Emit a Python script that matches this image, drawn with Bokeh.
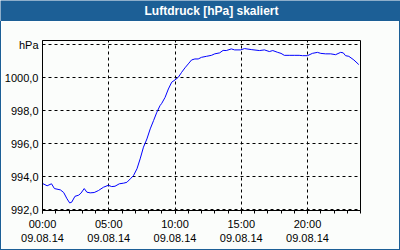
from bokeh.plotting import figure
from bokeh.models import FixedTicker, Spacer
from bokeh.layouts import column, row
from bokeh.core.properties import value
from bokeh.embed import file_html
from bokeh.resources import INLINE

# hours since 00:00 on 09.08.14
hours = [0.0, 0.35, 0.68, 0.9, 1.35, 1.6, 1.85, 2.05, 2.2, 2.45, 2.73, 2.9, 3.15, 3.35, 3.6,
         3.9, 4.22, 4.6, 4.97, 5.22, 5.47, 5.8, 6.13, 6.37, 6.63, 6.87, 7.13, 7.37, 7.62,
         7.88, 8.13, 8.38, 8.63, 8.87, 9.0, 9.25, 9.5, 9.75, 10.0, 10.25, 10.5, 10.75, 11.0,
         11.25, 11.5, 11.75, 12.0, 12.37, 12.75, 13.0, 13.37, 13.63, 13.87, 14.25, 14.5,
         14.95, 15.25, 15.75, 16.37, 16.75, 17.12, 17.38, 17.75, 18.0, 18.25, 18.62, 19.0,
         19.37, 19.62, 20.0, 20.37, 20.75, 21.0, 21.37, 21.75, 22.12, 22.5, 22.7, 22.87,
         23.12, 23.5, 23.87]
pressure = [993.58, 993.44, 993.56, 993.27, 993.19, 993.03, 992.65, 992.4, 992.44, 992.8,
            992.87, 992.99, 993.27, 993.05, 993.01, 993.03, 993.15, 993.35, 993.47, 993.39,
            993.41, 993.56, 993.6, 993.65, 993.86, 994.06, 994.47, 995.07, 995.78, 996.28,
            996.89, 997.39, 997.9, 998.3, 998.44, 998.8, 999.31, 999.72, 999.86, 1000.02,
            1000.32, 1000.59, 1000.83, 1001.07, 1001.13, 1001.13, 1001.23, 1001.29, 1001.35,
            1001.44, 1001.5, 1001.65, 1001.64, 1001.74, 1001.68, 1001.68, 1001.76, 1001.7,
            1001.64, 1001.68, 1001.58, 1001.64, 1001.53, 1001.47, 1001.35, 1001.35, 1001.35,
            1001.35, 1001.33, 1001.33, 1001.47, 1001.53, 1001.47, 1001.44, 1001.44, 1001.39,
            1001.53, 1001.5, 1001.33, 1001.29, 1001.07, 1000.79]

x_ticks = [0, 5, 10, 15, 20]
x_tick_labels = ["00:00\n09.08.14", "05:00\n09.08.14", "10:00\n09.08.14",
                 "15:00\n09.08.14", "20:00\n09.08.14"]
y_ticks = [992, 994, 996, 998, 1000, 1002]
y_tick_labels = ["992,0", "994,0", "996,0", "998,0", "1000,0", "hPa"]
title_text = "Luftdruck [hPa] skaliert"

BG = "#fbfdfb"
BLUE = "#1c5f96"

# ---- title bar ----
t = figure(width=400, height=21, output_backend="svg", toolbar_location=None,
           x_range=(0, 400), y_range=(0, 21), min_border=0,
           x_axis_type=None, y_axis_type=None)
t.background_fill_color = BLUE
t.border_fill_color = BLUE
t.outline_line_color = None
t.grid.visible = False
t.text(x=[211], y=[10.5], text=[title_text], text_color="white",
       text_font=value("Liberation Sans"), text_font_style="bold",
       text_font_size="12px", text_align="center", text_baseline="middle")

# ---- main chart ----
p = figure(width=398, height=228, output_backend="svg", toolbar_location=None,
           x_range=(0, 24), y_range=(991.94, 1002.25),
           min_border_left=39, min_border_right=39, min_border_top=19, min_border_bottom=39)
p.background_fill_color = BG
p.border_fill_color = BG
p.outline_line_color = "black"
p.outline_line_width = 1

p.line(hours, pressure, line_color="#0000ff", line_width=1)

xa = p.xaxis[0]
xa.ticker = FixedTicker(ticks=x_ticks, minor_ticks=list(range(25)))
xa.major_label_overrides = dict(zip(x_ticks, x_tick_labels))
xa.major_label_text_font = "Liberation Sans"
xa.major_label_text_font_size = "11px"
xa.major_label_text_color = "black"
xa.major_tick_out = 3
xa.major_tick_in = 0
xa.minor_tick_out = 3
xa.minor_tick_in = 0
xa.major_label_standoff = 4
xa.axis_line_color = "black"
xa.major_tick_line_color = "black"
xa.minor_tick_line_color = "black"

ya = p.yaxis[0]
ya.ticker = FixedTicker(ticks=y_ticks)
ya.major_label_overrides = dict(zip(y_ticks, y_tick_labels))
ya.major_label_text_font = "Liberation Sans"
ya.major_label_text_font_size = "11px"
ya.major_label_text_color = "black"
ya.major_tick_out = 0
ya.major_tick_in = 0
ya.minor_tick_line_color = None
ya.major_label_standoff = 4
ya.axis_line_color = "black"

for g in (p.xgrid[0], p.ygrid[0]):
    g.grid_line_color = "black"
    g.grid_line_dash = "3 3"
    g.grid_line_width = 1

# thin blue frame around the chart body
left_edge = Spacer(width=1, height=228, styles={"background-color": BLUE})
right_edge = Spacer(width=1, height=228, styles={"background-color": BLUE})
bottom_edge = Spacer(width=400, height=1, styles={"background-color": BLUE})

layout = column(t, row(left_edge, p, right_edge, spacing=0), bottom_edge, spacing=0)

open("out.html", "w").write(file_html(layout, INLINE))
